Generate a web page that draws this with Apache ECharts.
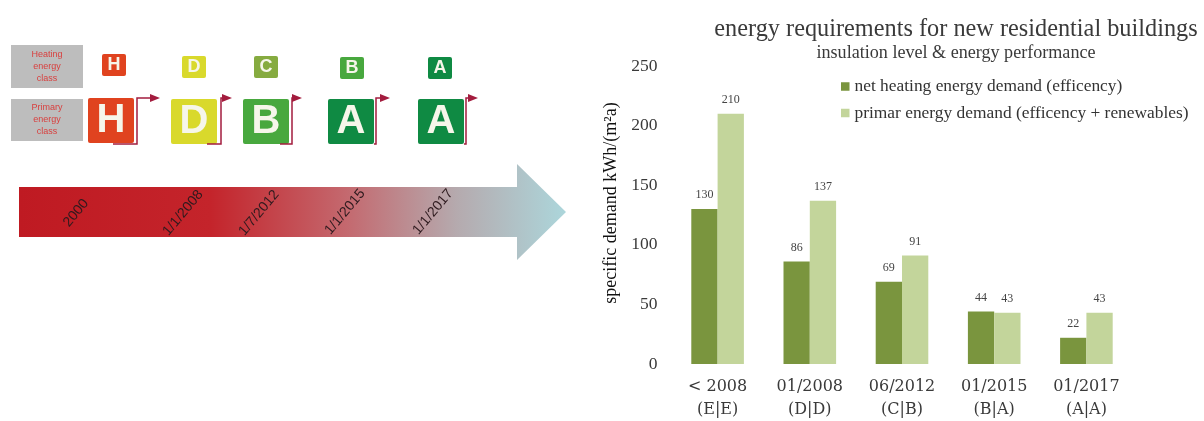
<!DOCTYPE html>
<html>
<head>
<meta charset="utf-8">
<style>
  html, body { margin: 0; padding: 0; background: #fff; }
  #chart { width: 1204px; height: 421px; }
</style>
<script src="https://cdn.jsdelivr.net/npm/echarts@6/dist/echarts.min.js"></script>
</head>
<body>
<div id="chart"></div>
<script>
const categories = ['< 2008\n(E|E)', '01/2008\n(D|D)', '06/2012\n(C|B)', '01/2015\n(B|A)', '01/2017\n(A|A)']
const netHeating = [130, 86, 69, 44, 22]
const primaryEnergy = [210, 137, 91, 43, 43]
const yTicks = { min: 0, max: 250, interval: 50 }

const seriesNames = ['net heating energy demand (efficency)', 'primar energy demand (efficency + renewables)']
const titleText = 'energy requirements for new residential buildings'
const subtitleText = 'insulation level & energy performance'
const yAxisName = 'specific demand kWh/(m²a)'

// left hand schematic: energy class badges and the time arrow
const classColors = { H: '#e0431f', D: '#d9d92c', C: '#86ab40', B: '#48a83e', A: '#0f8a43' }
const smallBadges = [['H', 102, 54], ['D', 182, 56], ['C', 254, 56], ['B', 340, 57], ['A', 428, 57]]
const largeBadges = [['H', 88, 98], ['D', 171, 99], ['B', 243, 99], ['A', 328, 99], ['A', 418, 99]]
const flags = [[113, 137, 150], [207, 221, 222], [280, 292, 292], [374, 376, 380], [464, 466, 468]]
const timeLabels = [['2000', 76, 213], ['1/1/2008', 183, 213], ['1/7/2012', 259, 213], ['1/1/2015', 345, 212], ['1/1/2017', 433, 212]]
const greyBoxes = [[45, 43, 'Heating\nenergy\nclass'], [99, 42, 'Primary\nenergy\nclass']]

const serif = '"Liberation Serif", serif'
const wideSerif = '"DejaVu Serif", serif'
const sans = '"Liberation Sans", sans-serif'
const flagColor = '#a31c3e'

function badge (item, size, fontSize) {
  return {
    type: 'rect',
    shape: { x: item[1], y: item[2], width: size, height: size - 1 - (size > 30 ? 0 : 1), r: 2 },
    style: { fill: classColors[item[0]] },
    textContent: {
      style: { text: item[0], fill: '#f6f6ea', fontSize: fontSize, fontWeight: 'bold', fontFamily: sans }
    },
    textConfig: { position: 'inside' }
  }
}

const graphics = []
greyBoxes.forEach(b => {
  graphics.push({
    type: 'rect',
    shape: { x: 11, y: b[0], width: 72, height: b[1] },
    style: { fill: '#bdbdbd' },
    textContent: { style: { text: b[2], fill: '#d8403f', fontSize: 9, lineHeight: 12, fontFamily: sans, align: 'center' } },
    textConfig: { position: 'inside' }
  })
})
smallBadges.forEach(b => graphics.push(badge(b, 24, 18)))
largeBadges.forEach(b => graphics.push(badge(b, 46, 40)))
flags.forEach(f => {
  graphics.push({
    type: 'polyline',
    shape: { points: [[f[0], 144], [f[1], 144], [f[1], 98], [f[2] + 1, 98]] },
    style: { stroke: flagColor, lineWidth: 1.5, fill: null }
  })
  graphics.push({
    type: 'polygon',
    shape: { points: [[f[2], 94], [f[2] + 10, 98], [f[2], 102]] },
    style: { fill: flagColor }
  })
})
graphics.push({
  type: 'polygon',
  shape: { points: [[19, 187], [517, 187], [517, 164], [566, 212], [517, 260], [517, 237], [19, 237]] },
  style: {
    fill: new echarts.graphic.LinearGradient(0, 0, 1, 0, [
      { offset: 0, color: '#bf1a22' },
      { offset: 0.35, color: '#c4242b' },
      { offset: 0.6, color: '#c4696f' },
      { offset: 0.8, color: '#b5aaae' },
      { offset: 1, color: '#acd6db' }
    ])
  }
})
timeLabels.forEach(t => {
  graphics.push({
    type: 'text',
    x: t[1],
    y: t[2],
    rotation: 50 * Math.PI / 180,
    style: { text: t[0], fill: '#2e1a1e', fontSize: 14, fontFamily: sans, align: 'center', verticalAlign: 'middle' }
  })
})

const chart = echarts.init(document.getElementById('chart'), null, { renderer: 'canvas' })
chart.setOption({
  animation: false,
  backgroundColor: '#fff',
  title: [
    { text: titleText, left: 951, top: 13, textAlign: 'center', textStyle: { fontFamily: serif, fontSize: 24.3, fontWeight: 'normal', color: '#3a3a3a' } },
    { text: subtitleText, left: 951, top: 39, textAlign: 'center', textStyle: { fontFamily: serif, fontSize: 18.1, fontWeight: 'normal', color: '#3a3a3a' } }
  ],
  legend: {
    orient: 'vertical',
    left: 836,
    top: 73,
    itemWidth: 8.5,
    itemHeight: 8.5,
    itemGap: 9.5,
    selectedMode: false,
    icon: 'rect',
    textStyle: { fontFamily: serif, fontSize: 17.4, color: '#333', padding: [0, 0, 0, 0] },
    data: seriesNames
  },
  grid: { left: 671.5, width: 461, top: 66, height: 300 },
  xAxis: {
    type: 'category',
    data: categories,
    axisLine: { show: false },
    axisTick: { show: false },
    axisLabel: { margin: 11, fontFamily: wideSerif, fontSize: 16, lineHeight: 23, color: '#3a3a3a', interval: 0 }
  },
  yAxis: {
    type: 'value',
    min: yTicks.min,
    max: yTicks.max,
    interval: yTicks.interval,
    name: yAxisName,
    nameLocation: 'middle',
    nameGap: 51,
    nameTextStyle: { fontFamily: serif, fontSize: 18, color: '#111', padding: [0, 0, 0, 24] },
    axisLine: { show: false },
    axisTick: { show: false },
    splitLine: { show: false },
    axisLabel: { margin: 14, fontFamily: serif, fontSize: 17.5, color: '#3a3a3a' }
  },
  series: [
    {
      name: seriesNames[0],
      type: 'bar',
      barWidth: 26.3,
      barGap: 0,
      itemStyle: { color: '#7a953e' },
      label: { show: true, position: 'top', distance: 8, fontFamily: serif, fontSize: 12, color: '#444' },
      data: netHeating
    },
    {
      name: seriesNames[1],
      type: 'bar',
      barWidth: 26.3,
      itemStyle: { color: '#c3d59b' },
      label: { show: true, position: 'top', distance: 8, fontFamily: serif, fontSize: 12, color: '#444' },
      data: primaryEnergy
    }
  ],
  graphic: graphics
})
</script>
</body>
</html>
